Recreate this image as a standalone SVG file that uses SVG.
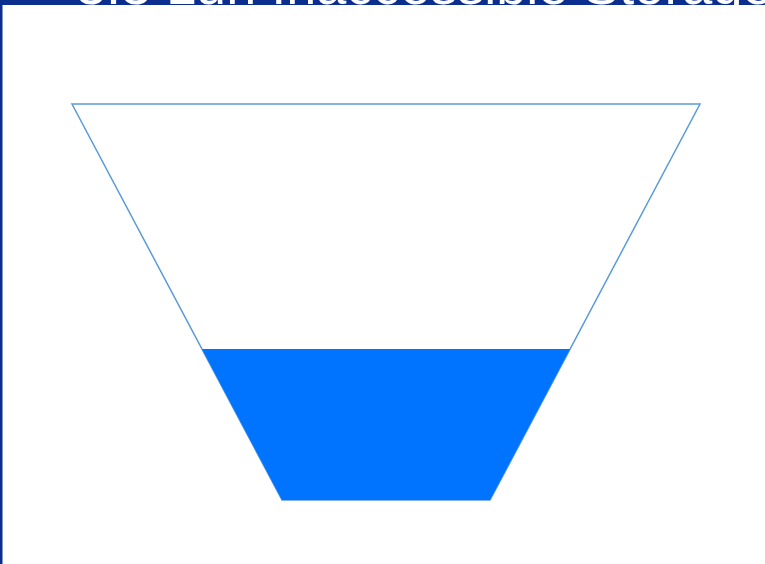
<svg xmlns="http://www.w3.org/2000/svg" width="765" height="564" viewBox="0 0 765 564">
<style>
.frame{fill:#0b2e8f}
.outline{fill:#ffffff;stroke:#5b9bd8;stroke-width:1.5}
.level{fill:#0073ff}
.title{font-family:"Liberation Sans",Arial,sans-serif;font-size:54px;fill:#ffffff}
</style>
<rect width="765" height="564" fill="#ffffff"/>
<g id="frame">
<rect class="frame" x="0" y="0" width="765" height="5"/>
<rect class="frame" x="0" y="0" width="2.5" height="564"/>
<text class="title" x="76" y="4">3.3 Lun Inaccessible Storage</text>
</g>
<g id="funnel">
<polygon class="outline" points="72,104 700,104 490,500 282,500"/>
<polygon class="level" points="202,349 570,349 490,500 282,500"/>
</g>
</svg>
